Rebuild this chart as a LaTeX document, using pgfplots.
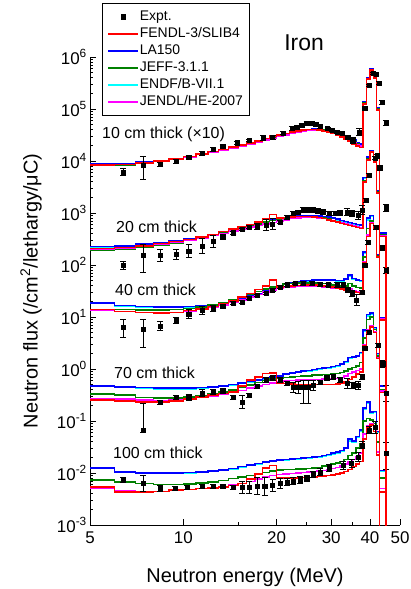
\documentclass[border=0pt]{standalone}
\usepackage{fontspec}
\setmainfont{Liberation Sans}
\usepackage{pgfplots}
\usepackage{pgfplotstable}
\pgfplotsset{compat=1.18}

\definecolor{cFENDL}{RGB}{255,0,0}
\definecolor{cLA}{RGB}{0,0,255}
\definecolor{cJEFF}{RGB}{0,128,0}
\definecolor{cENDF}{RGB}{0,255,255}
\definecolor{cJENDL}{RGB}{255,0,255}

% Calculated spectra, 1 MeV bins (value holds from E to the next E).
% Columns: r = FENDL-3/SLIB4, b = LA150, g = JEFF-3.1.1, c = ENDF/B-VII.1, m = JENDL/HE-2007
% 10 cm thick (x10)
\pgfplotstableread{
E r b g c m
5 8.32e3 8.71e3 8.13e3 8.51e3 8.32e3
6 8.51e3 8.91e3 8.32e3 8.71e3 8.51e3
7 9.12e3 9.55e3 8.91e3 9.33e3 9.12e3
8 1.00e4 1.02e4 9.77e3 1.02e4 9.77e3
9 1.10e4 1.12e4 1.07e4 1.12e4 1.07e4
10 1.23e4 1.23e4 1.20e4 1.23e4 1.20e4
11 1.35e4 1.35e4 1.32e4 1.35e4 1.32e4
12 1.51e4 1.48e4 1.45e4 1.48e4 1.45e4
13 1.66e4 1.62e4 1.58e4 1.62e4 1.58e4
14 1.86e4 1.78e4 1.74e4 1.78e4 1.74e4
15 2.04e4 1.95e4 1.91e4 1.95e4 1.91e4
16 2.24e4 2.14e4 2.09e4 2.14e4 2.09e4
17 2.45e4 2.34e4 2.29e4 2.34e4 2.29e4
18 2.69e4 2.57e4 2.51e4 2.57e4 2.51e4
19 3.02e4 2.75e4 2.75e4 2.75e4 2.69e4
20 3.16e4 3.02e4 2.95e4 3.02e4 2.95e4
21 3.39e4 3.24e4 3.16e4 3.24e4 3.16e4
22 3.63e4 3.47e4 3.39e4 3.47e4 3.39e4
23 3.80e4 3.72e4 3.63e4 3.72e4 3.55e4
24 3.98e4 3.89e4 3.80e4 3.89e4 3.72e4
25 4.07e4 4.07e4 3.98e4 4.07e4 3.89e4
26 4.07e4 4.17e4 4.07e4 4.17e4 3.98e4
27 3.98e4 4.17e4 4.07e4 4.17e4 3.98e4
28 3.80e4 4.07e4 3.98e4 4.07e4 3.89e4
29 3.63e4 3.89e4 3.80e4 3.89e4 3.72e4
30 3.39e4 3.72e4 3.63e4 3.72e4 3.55e4
31 3.16e4 3.55e4 3.39e4 3.47e4 3.31e4
32 2.88e4 3.31e4 3.16e4 3.24e4 3.09e4
33 2.63e4 3.02e4 2.88e4 2.95e4 2.82e4
34 2.40e4 2.82e4 2.63e4 2.75e4 2.57e4
35 2.14e4 2.57e4 2.34e4 2.51e4 2.29e4
36 1.95e4 2.29e4 2.14e4 2.24e4 2.09e4
37 1.82e4 2.14e4 2.00e4 2.09e4 1.95e4
38 1.26e5 1.38e5 1.32e5 1.35e5 1.29e5
39 3.80e5 3.98e5 3.89e5 3.98e5 3.80e5
40 5.62e5 6.03e5 5.75e5 5.89e5 5.62e5
41 3.98e5 4.27e5 4.07e5 4.17e5 3.98e5
42 9.55e4 1.05e5 1.00e5 1.02e5 9.77e4
43 1e-8 1e-8 1e-8 1e-8 1e-8
45 1e-8 1e-8 1e-8 1e-8 1e-8
}\calcA
% 20 cm thick
\pgfplotstableread{
E r b g c m
5 209 229 191 224 204
6 219 234 200 229 214
7 234 251 219 245 229
8 257 269 240 263 251
9 282 288 263 282 275
10 309 316 295 309 302
11 347 347 331 339 331
12 389 389 372 380 372
13 437 427 417 417 407
14 490 479 468 468 447
15 550 525 513 513 490
16 603 575 562 562 537
17 676 631 617 617 575
18 759 692 676 676 617
19 933 741 724 724 661
20 794 776 759 759 708
21 813 813 794 794 741
22 832 851 813 832 776
23 851 871 832 851 794
24 851 891 832 871 813
25 851 891 832 871 813
26 832 891 832 871 813
27 813 871 813 851 794
28 776 851 794 832 776
29 741 832 759 813 741
30 708 794 724 776 724
31 676 759 692 741 692
32 631 724 661 708 661
33 603 692 617 676 631
34 575 661 589 646 603
35 550 631 562 617 575
36 525 603 537 589 550
37 501 589 525 575 525
38 3980 4790 4170 4680 3980
39 10500 12000 11000 11700 10500
40 14800 15800 15100 15500 14500
41 9550 10500 9770 10200 9330
42 2400 2630 2510 2570 2400
43 355 417 380 407 372
45 1e-8 1e-8 1e-8 1e-8 1e-8
}\calcB
% 40 cm thick
\pgfplotstableread{
E r b g c m
5 13.8 18.6 13.8 18.2 13.5
6 12.9 16.6 13.8 16.4 12.9
7 12.3 15.8 13.5 15.6 12.3
8 12.0 15.5 13.5 15.3 12.0
9 12.3 15.5 13.8 15.3 12.3
10 13.2 15.8 14.5 15.6 12.9
11 14.1 16.6 15.5 16.4 13.8
12 15.8 17.4 17.0 17.2 15.1
13 18.2 18.6 19.1 18.4 17.0
14 20.4 20.4 21.4 20.2 19.1
15 24.0 22.4 24.0 22.1 21.4
16 28.2 25.1 26.9 24.8 24.0
17 33.9 28.2 30.9 27.9 26.9
18 39.8 32.4 34.7 32.0 30.2
19 51.3 36.3 38.0 35.9 33.1
20 38.0 39.8 40.7 39.4 35.5
21 38.9 42.7 42.7 42.2 37.2
22 39.8 45.7 43.7 45.2 38.0
23 40.7 47.9 44.7 47.4 38.9
24 41.7 49.0 44.7 48.5 39.8
25 41.7 50.1 44.7 49.5 39.8
26 41.7 51.3 44.7 50.7 39.8
27 40.7 51.3 44.7 50.7 38.9
28 39.8 51.3 43.7 50.7 38.0
29 38.9 51.3 42.7 50.7 37.2
30 38.0 51.3 41.7 50.7 36.3
31 36.3 50.1 40.7 49.5 35.5
32 34.7 50.1 39.8 49.5 33.9
33 33.1 53.7 39.8 52.5 33.1
34 31.6 64.6 43.7 61.7 35.5
35 30.2 55.0 39.8 53.7 32.4
36 29.5 51.3 37.2 50.1 30.9
37 28.8 50.1 36.3 49.0 30.2
38 112 178 141 170 117
39 355 794 501 741 380
40 631 891 708 851 661
41 501 575 525 562 501
42 141 158 148 155 141
43 8.71 9.55 9.12 9.33 9.12
45 1e-8 1e-8 1e-8 1e-8 1e-8
}\calcC
% 70 cm thick
\pgfplotstableread{
E r b g c m
5 0.251 0.468 0.331 0.457 0.269
6 0.245 0.447 0.316 0.437 0.263
7 0.234 0.437 0.282 0.427 0.251
8 0.234 0.427 0.275 0.417 0.245
9 0.245 0.427 0.275 0.417 0.251
10 0.263 0.427 0.288 0.417 0.263
11 0.288 0.437 0.309 0.427 0.282
12 0.316 0.447 0.331 0.437 0.302
13 0.339 0.468 0.363 0.457 0.324
14 0.363 0.501 0.398 0.490 0.355
15 0.468 0.537 0.437 0.525 0.389
16 0.617 0.575 0.490 0.562 0.427
17 0.708 0.617 0.550 0.603 0.468
18 0.813 0.661 0.603 0.646 0.501
19 0.832 0.708 0.646 0.692 0.537
20 0.537 0.741 0.676 0.724 0.562
21 0.525 0.794 0.692 0.776 0.589
22 0.513 0.832 0.708 0.813 0.603
23 0.501 0.871 0.724 0.851 0.617
24 0.501 0.912 0.741 0.891 0.617
25 0.501 0.933 0.741 0.912 0.631
26 0.501 0.977 0.759 0.955 0.631
27 0.501 1.02 0.759 1.00 0.631
28 0.501 1.05 0.776 1.02 0.646
29 0.501 1.07 0.776 1.05 0.646
30 0.501 1.12 0.794 1.10 0.646
31 0.513 1.17 0.813 1.15 0.661
32 0.537 1.26 0.851 1.23 0.692
33 0.562 1.38 0.912 1.35 0.741
34 0.631 1.66 1.00 1.58 0.813
35 0.708 1.70 1.07 1.66 0.871
36 0.794 1.78 1.15 1.74 0.933
37 0.871 2.09 1.32 2.00 1.00
38 2.82 5.62 3.98 5.25 2.95
39 5.25 11.2 8.91 10.5 5.62
40 6.46 12.0 10.0 11.5 6.76
41 5.01 6.31 5.75 6.17 5.25
42 1.58 2.00 1.78 1.95 1.66
43 0.355 0.468 0.398 0.457 0.380
45 1e-8 1e-8 1e-8 1e-8 1e-8
}\calcD
% 100 cm thick
\pgfplotstableread{
E r b g c m
5 5.37e-3 1.26e-2 7.41e-3 1.23e-2 5.01e-3
6 4.27e-3 1.05e-2 6.76e-3 1.02e-2 4.47e-3
7 4.27e-3 1.00e-2 6.31e-3 9.77e-3 4.37e-3
8 4.37e-3 1.00e-2 6.03e-3 9.77e-3 4.37e-3
9 4.68e-3 1.00e-2 6.03e-3 9.77e-3 4.57e-3
10 4.79e-3 1.02e-2 6.17e-3 1.00e-2 4.79e-3
11 5.01e-3 1.05e-2 6.46e-3 1.02e-2 5.01e-3
12 5.13e-3 1.10e-2 6.76e-3 1.07e-2 5.25e-3
13 5.37e-3 1.15e-2 7.24e-3 1.12e-2 5.50e-3
14 5.75e-3 1.23e-2 7.76e-3 1.20e-2 5.89e-3
15 6.31e-3 1.32e-2 8.32e-3 1.29e-2 6.31e-3
16 7.59e-3 1.41e-2 8.91e-3 1.38e-2 6.92e-3
17 9.55e-3 1.51e-2 9.55e-3 1.48e-2 7.59e-3
18 1.26e-2 1.62e-2 1.02e-2 1.58e-2 8.32e-3
19 1.38e-2 1.70e-2 1.10e-2 1.66e-2 8.91e-3
20 7.94e-3 1.78e-2 1.15e-2 1.74e-2 9.33e-3
21 7.94e-3 1.82e-2 1.17e-2 1.78e-2 9.55e-3
22 7.94e-3 1.86e-2 1.17e-2 1.82e-2 9.77e-3
23 7.94e-3 1.91e-2 1.20e-2 1.86e-2 1.00e-2
24 8.13e-3 1.95e-2 1.20e-2 1.91e-2 1.02e-2
25 8.13e-3 2.00e-2 1.23e-2 1.95e-2 1.05e-2
26 8.32e-3 2.04e-2 1.26e-2 2.00e-2 1.07e-2
27 8.51e-3 2.09e-2 1.29e-2 2.04e-2 1.10e-2
28 8.71e-3 2.19e-2 1.35e-2 2.14e-2 1.12e-2
29 8.91e-3 2.29e-2 1.41e-2 2.24e-2 1.17e-2
30 9.12e-3 2.40e-2 1.48e-2 2.34e-2 1.23e-2
31 9.55e-3 2.51e-2 1.55e-2 2.45e-2 1.29e-2
32 1.00e-2 2.69e-2 1.66e-2 2.63e-2 1.38e-2
33 1.07e-2 3.02e-2 1.82e-2 2.95e-2 1.48e-2
34 1.17e-2 4.47e-2 2.19e-2 4.17e-2 1.66e-2
35 1.32e-2 4.17e-2 2.40e-2 3.98e-2 1.82e-2
36 1.48e-2 5.01e-2 3.02e-2 4.79e-2 2.09e-2
37 1.66e-2 6.76e-2 3.72e-2 6.46e-2 2.40e-2
38 4.47e-2 0.178 0.100 0.166 5.62e-2
39 7.59e-2 0.234 0.112 0.219 7.94e-2
40 8.32e-2 0.148 0.105 0.141 8.71e-2
41 6.31e-2 0.151 8.91e-2 0.145 7.08e-2
42 2.24e-2 6.31e-2 3.98e-2 6.03e-2 2.51e-2
43 4.27e-3 1.12e-2 7.94e-3 1.10e-2 5.01e-3
45 1e-8 1e-8 1e-8 1e-8 1e-8
}\calcE

% Measured spectra: energy, flux, relative error (+), relative error (-)
\pgfplotstableread{
E v ep em
6.39 6.17e3 0.15 0.13
7.41 8.40e3 0.49 0.46
8.41 8.71e3 0.10 0.09
9.47 1.00e4 0.08 0.08
10.4 1.20e4 0.06 0.06
11.5 1.43e4 0.08 0.08
12.5 1.70e4 0.08 0.08
13.4 1.95e4 0.06 0.06
14.9 2.24e4 0.06 0.06
16.3 2.51e4 0.06 0.06
18.1 2.75e4 0.12 0.11
19.4 2.88e4 0.10 0.09
21.0 3.47e4 0.08 0.08
22.4 4.27e4 0.08 0.08
23.3 4.47e4 0.08 0.08
24.1 4.90e4 0.08 0.08
25.0 5.37e4 0.08 0.08
26.0 5.37e4 0.08 0.08
26.8 5.13e4 0.08 0.08
27.6 4.68e4 0.08 0.08
29.2 4.27e4 0.06 0.06
30.2 3.98e4 0.06 0.06
31.3 3.63e4 0.06 0.06
32.5 3.47e4 0.06 0.06
33.9 2.88e4 0.08 0.08
35.2 2.51e4 0.12 0.11
36.9 3.63e4 0.15 0.13
38.5 1.05e5 0.06 0.06
39.7 2.88e5 0.06 0.06
40.9 4.90e5 0.06 0.06
41.8 4.68e5 0.06 0.06
42.8 3.16e5 0.06 0.06
43.8 1.35e5 0.10 0.09
45.2 5.37e4 0.12 0.11
}\exptA
\pgfplotstableread{
E v ep em
6.39 100 0.20 0.17
7.41 155 0.62 0.54
8.41 155 0.32 0.24
9.47 162 0.26 0.20
10.4 186 0.32 0.24
11.5 234 0.41 0.29
12.5 288 0.32 0.24
13.4 347 0.10 0.09
14.5 417 0.06 0.06
15.5 490 0.06 0.06
16.3 537 0.06 0.06
17.3 562 0.15 0.13
18.5 589 0.26 0.20
19.4 617 0.26 0.20
20.5 676 0.08 0.08
21.6 832 0.08 0.08
22.6 1000 0.08 0.08
23.5 1050 0.08 0.08
24.3 1150 0.10 0.09
25.3 1150 0.10 0.09
26.2 1150 0.10 0.09
27.2 1100 0.10 0.09
28.2 1050 0.10 0.09
29.6 1000 0.10 0.09
30.9 1000 0.10 0.09
32.0 1000 0.12 0.11
33.7 1050 0.15 0.13
35.0 1000 0.15 0.13
36.6 912 0.20 0.17
37.8 1150 0.20 0.17
38.8 1780 0.10 0.09
39.7 5370 0.08 0.08
41.5 11500 0.08 0.08
42.1 12600 0.08 0.08
43.0 7410 0.08 0.08
45.2 1260 0.15 0.13
}\exptB
\pgfplotstableread{
E v ep em
6.39 6.46 0.41 0.36
7.41 5.89 0.55 0.55
8.41 6.76 0.20 0.17
9.47 8.71 0.15 0.13
10.4 11.5 0.20 0.17
11.5 13.5 0.20 0.17
12.5 14.8 0.15 0.13
13.4 16.2 0.08 0.08
14.5 18.6 0.06 0.06
15.5 19.5 0.06 0.06
16.3 23.4 0.06 0.06
17.3 26.3 0.06 0.06
18.5 28.8 0.06 0.06
19.4 33.1 0.06 0.06
20.5 38.0 0.06 0.06
21.6 41.7 0.06 0.06
23.0 44.7 0.06 0.06
24.3 44.7 0.08 0.08
26.0 44.7 0.08 0.08
27.6 42.7 0.08 0.08
29.3 41.7 0.08 0.08
31.3 41.7 0.10 0.09
32.7 41.7 0.10 0.09
33.9 33.1 0.12 0.11
35.0 28.8 0.15 0.13
36.2 21.4 0.26 0.20
37.8 30.2 0.10 0.09
38.5 100 0.08 0.08
39.5 275 0.08 0.08
41.8 537 0.08 0.08
43.8 214 0.10 0.09
45.2 79.4 0.12 0.11
}\exptC
\pgfplotstableread{
E v ep em
7.41 0.0676 2.30 0.10
8.41 0.232 0.10 0.09
9.47 0.288 0.10 0.09
10.4 0.288 0.15 0.13
11.5 0.347 0.15 0.13
12.5 0.363 0.12 0.11
13.4 0.380 0.10 0.09
14.5 0.288 0.10 0.09
15.5 0.232 0.35 0.26
16.3 0.316 0.10 0.09
17.3 0.468 0.10 0.09
18.5 0.617 0.10 0.09
19.4 0.676 0.10 0.09
20.5 0.617 0.10 0.09
21.6 0.537 0.10 0.09
22.6 0.447 0.26 0.20
23.5 0.447 0.32 0.24
24.3 0.447 0.38 0.50
25.3 0.447 0.38 0.50
26.2 0.490 0.26 0.20
27.6 0.562 0.10 0.09
29.0 0.676 0.10 0.09
30.4 0.708 0.10 0.09
32.0 0.617 0.10 0.09
33.7 0.537 0.26 0.20
35.3 0.490 0.15 0.13
36.6 0.490 0.20 0.17
37.8 0.708 0.10 0.09
38.5 2.51 0.10 0.09
39.7 5.13 0.10 0.09
42.5 2.88 0.10 0.09
44.0 1.26 0.15 0.13
45.2 0.347 0.40 0.30
}\exptD
\pgfplotstableread{
E v ep em
6.39 7.41e-3 0.10 0.09
7.41 6.46e-3 0.40 0.30
8.41 5.13e-3 0.15 0.13
9.40 5.13e-3 0.10 0.09
10.3 5.37e-3 0.10 0.09
11.5 5.62e-3 0.10 0.09
12.5 5.62e-3 0.10 0.09
13.4 5.62e-3 0.10 0.09
14.5 5.37e-3 0.10 0.09
15.5 5.37e-3 0.30 0.23
16.3 5.37e-3 0.30 0.23
17.3 5.62e-3 0.45 0.30
18.3 5.62e-3 0.50 0.33
19.4 5.89e-3 0.30 0.23
20.5 6.46e-3 0.25 0.20
21.6 6.76e-3 0.15 0.13
22.6 7.08e-3 0.15 0.13
23.8 7.41e-3 0.15 0.13
25.0 7.94e-3 0.15 0.13
26.2 9.55e-3 0.15 0.13
27.6 1.05e-2 0.15 0.13
29.6 1.26e-2 0.15 0.13
32.7 1.41e-2 0.20 0.17
34.9 1.55e-2 0.20 0.17
36.6 2.04e-2 0.20 0.17
37.8 3.47e-2 0.15 0.13
39.7 6.76e-2 0.15 0.13
41.5 7.59e-2 0.30 0.23
45.2 2.40e-2 0.60 0.50
}\exptE

\pgfplotsset{
  calc/.style={const plot, mark=none, line width=1.5bp, forget plot},
  expt/.style={forget plot, only marks, mark=square*, mark size=2.1bp, black,
    error bars/.cd, y dir=both, y explicit relative,
    error bar style={line width=0.6bp, black},
    error mark options={rotate=90, mark size=3bp, line width=0.6bp, black}},
}

% one slab thickness: five evaluations (ENDF under LA150, FENDL on top), then the measurement
\newcommand{\drawslab}[2]{%
  \addplot[calc, cENDF] table[x=E, y=c] {#1};
  \addplot[calc, cLA] table[x=E, y=b] {#1};
  \addplot[calc, cJEFF] table[x=E, y=g] {#1};
  \addplot[calc, cJENDL] table[x=E, y=m] {#1};
  \addplot[calc, cFENDL] table[x=E, y=r] {#1};
  \addplot[expt] table[x=E, y=v, y error plus=ep, y error minus=em] {#2};
}

\begin{document}
\begin{tikzpicture}
\useasboundingbox (-90bp,-64bp) rectangle (321bp,525bp);
\begin{axis}[
  at={(0bp,0bp)}, anchor=south west,
  scale only axis, width=310bp, height=468bp,
  xmode=log, ymode=log, log basis x=10, log basis y=10,
  xmin=5, xmax=50, ymin=1e-3, ymax=1e6,
  axis x line*=bottom, axis y line*=left,
  axis line style={-, line width=0.9bp, black},
  every outer x axis line/.append style={-},
  every outer y axis line/.append style={-},
  tick align=inside,
  major tick length=6bp, minor tick length=3.5bp,
  tick style={black, line width=0.8bp},
  xtick={5,10,20,30,40,50}, xticklabels={5,10,20,30,40,50},
  minor xtick={15,25,35,45},
  ytick={1e-3,1e-2,1e-1,1,1e1,1e2,1e3,1e4,1e5,1e6},
  yticklabels={10\textsuperscript{-3},10\textsuperscript{-2},10\textsuperscript{-1},10\textsuperscript{0},10\textsuperscript{1},10\textsuperscript{2},10\textsuperscript{3},10\textsuperscript{4},10\textsuperscript{5},10\textsuperscript{6}},
  minor ytick={2e-3,3e-3,4e-3,5e-3,6e-3,7e-3,8e-3,9e-3,
    0.02,0.03,0.04,0.05,0.06,0.07,0.08,0.09,
    0.2,0.3,0.4,0.5,0.6,0.7,0.8,0.9,
    2,3,4,5,6,7,8,9,
    20,30,40,50,60,70,80,90,
    200,300,400,500,600,700,800,900,
    2000,3000,4000,5000,6000,7000,8000,9000,
    2e4,3e4,4e4,5e4,6e4,7e4,8e4,9e4,
    2e5,3e5,4e5,5e5,6e5,7e5,8e5,9e5},
  xticklabel style={font=\fontsize{17}{19}\selectfont, yshift=-3bp},
  yticklabel style={font=\fontsize{17}{19}\selectfont, inner xsep=3bp},
  xlabel={Neutron energy (MeV)},
  ylabel={Neutron flux (/cm\textsuperscript{2}/lethargy/μC)},
  xlabel style={font=\fontsize{20}{22}\selectfont, at={(rel axis cs:0.5,-0.111)}, anchor=center},
  ylabel style={font=\fontsize{20}{22}\selectfont, at={(rel axis cs:-0.19,0.5)}, anchor=center},
  legend cell align=left,
  legend image code/.code={\draw[mark repeat=2,mark phase=2,#1] plot coordinates {(0bp,0bp) (15bp,0bp) (30bp,0bp)};},
  legend style={at={(rel axis cs:0.0387,1.1154)}, anchor=north west,
    draw=black, line width=0.8bp, fill=white,
    font=\fontsize{14}{16}\selectfont,
    inner xsep=5bp, inner ysep=6bp, row sep=2bp,
    nodes={inner sep=1bp, text height=10bp, text depth=3bp},
    /tikz/every even column/.append style={column sep=4bp}},
]
\addlegendimage{only marks, mark=square*, mark size=2.1bp, black}
\addlegendentry{Expt.}
\addlegendimage{cFENDL, line width=1.5bp, mark=none}
\addlegendentry{FENDL-3/SLIB4}
\addlegendimage{cLA, line width=1.5bp, mark=none}
\addlegendentry{LA150}
\addlegendimage{cJEFF, line width=1.5bp, mark=none}
\addlegendentry{JEFF-3.1.1}
\addlegendimage{cENDF, line width=1.5bp, mark=none}
\addlegendentry{ENDF/B-VII.1}
\addlegendimage{cJENDL, line width=1.5bp, mark=none}
\addlegendentry{JENDL/HE-2007}

\drawslab{\calcE}{\exptE}
\drawslab{\calcD}{\exptD}
\drawslab{\calcC}{\exptC}
\drawslab{\calcB}{\exptB}
\drawslab{\calcA}{\exptA}
\end{axis}

\node[font=\fontsize{23}{26}\selectfont] at (214bp,482bp) {Iron};
\begin{scope}[every node/.style={anchor=west, inner sep=0pt, font=\fontsize{16}{18}\selectfont}]
\node at (12bp,391bp) {10 cm thick (×10)};
\node at (26bp,298bp) {20 cm thick};
\node at (25bp,235bp) {40 cm thick};
\node at (24bp,152bp) {70 cm thick};
\node at (23bp,72bp) {100 cm thick};
\end{scope}
\end{tikzpicture}
\end{document}
